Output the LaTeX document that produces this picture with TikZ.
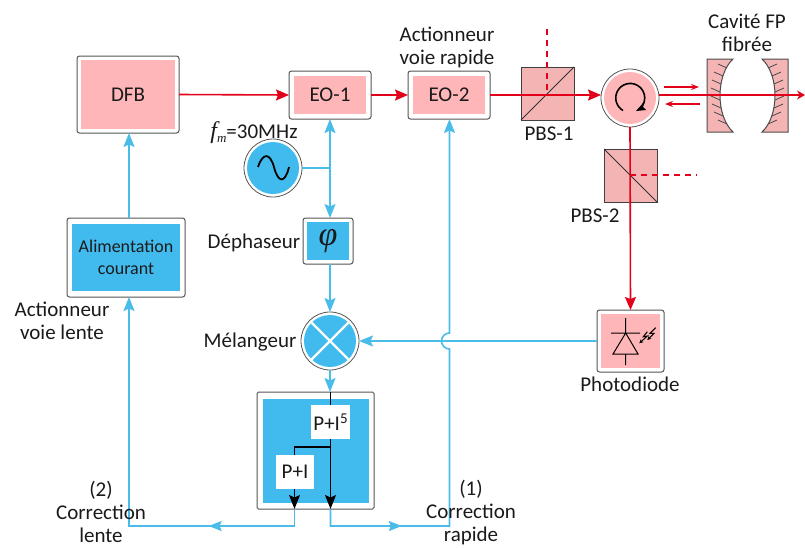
\documentclass[tikz,border=0pt]{standalone}
\usepackage{fontspec}
\setmainfont{Carlito}
\newfontfamily\timesit[ItalicFont=Liberation Serif Italic]{Liberation Serif}
\usetikzlibrary{arrows.meta,decorations.markings,calc}
\definecolor{pinkf}{HTML}{FFB6B9}
\definecolor{pbsf}{HTML}{F4B4B4}
\definecolor{bluef}{HTML}{41BBEE}
\definecolor{bluel}{HTML}{4ABCE8}
\definecolor{redl}{HTML}{E2001A}
\definecolor{frame}{HTML}{555555}
\definecolor{txt}{HTML}{1A1A1A}
\tikzset{
 x=1pt,y=-1pt,
 every node/.style={inner sep=0pt,outer sep=0pt,text=txt,font=\fontsize{21}{23}\selectfont,align=center},
 framebox/.style={draw=frame,line width=1pt,fill=white,rounded corners=2.5pt,minimum width=#1},
 fillp/.style={fill=pinkf,minimum width=#1},
 fillb/.style={fill=bluef,minimum width=#1},
 pbs/.style={draw=black!75,line width=1pt,fill=pbsf,minimum width=53pt,minimum height=53pt},
 ring/.style={circle,draw=frame,line width=0.8pt,fill=white,minimum size=58pt},
 pi/.style={fill=white,draw=none},
 redw/.style={redl,line width=1.6pt},
 bluew/.style={bluel,line width=1.6pt},
 rtip/.style={-{Stealth[length=13pt,width=11pt,inset=2pt]}},
 btip/.style={-{Stealth[length=14pt,width=11pt,inset=2.5pt]}},
 ktip/.style={-{Stealth[length=14pt,width=11pt,inset=2.5pt]}},
 mirror/.style={draw=black!70,line width=1pt,fill=pbsf},
 hatch/.style={black!70,line width=0.8pt},
 midb/.style={postaction={decorate},decoration={markings,mark=at position #1 with {\arrow{Stealth[length=13pt,width=10pt,inset=2pt]}}}},
}
\begin{document}
\begin{tikzpicture}
\useasboundingbox (0,0) rectangle (805,547);
% boxes
\node[framebox=102pt,minimum height=77pt] (dfbo) at (128,94.5) {};
\node[fillp=94pt,minimum height=69pt] (dfb) at (dfbo) {DFB};
\node[framebox=118pt,minimum height=79pt] (alimo) at (126,257.5) {};
\node[fillb=108pt,minimum height=67pt,font=\fontsize{18}{22}\selectfont] (alim) at (alimo) {Alimentation\\courant};
\node[framebox=82pt,minimum height=48pt] (eo1o) at (330,95) {};
\node[fillp=72pt,minimum height=38pt] (eo1) at (eo1o) {EO-1};
\node[framebox=82pt,minimum height=48pt] (eo2o) at (449,95) {};
\node[fillp=72pt,minimum height=38pt] (eo2) at (eo2o) {EO-2};
\node[pbs] (pbs1) at (547.5,93.5) {};
\node[pbs] (pbs2) at (630.5,175.5) {};
\node[ring] (circ) at (630,98) {};
\node[circle,fill=pinkf,minimum size=52pt] (circi) at (circ) {};
\node[ring] (sine) at (273,168) {};
\node[circle,fill=bluef,minimum size=52pt] (sinei) at (sine) {};
\node[framebox=50pt,minimum height=46pt] (phio) at (328,241) {};
\node[fillb=42pt,minimum height=38pt] (phi) at (phio) {};
\node[ring] (mix) at (330,341) {};
\node[circle,fill=bluef,minimum size=52pt] (mixi) at (mix) {};
\draw[white,line width=2.2pt] ($(mix)+(-18.5,-18.5)$) -- ($(mix)+(18.5,18.5)$) ($(mix)+(-18.5,18.5)$) -- ($(mix)+(18.5,-18.5)$);
\node[framebox=117pt,minimum height=117pt,rounded corners=1.5pt] (pido) at (315.5,450.5) {};
\node[fillb=106pt,minimum height=104pt] (pidi) at (pido) {};
\node[pi,minimum width=39pt,minimum height=34pt] (pi5) at (330.5,422) {P+I\raisebox{7pt}{\fontsize{15}{15}\selectfont 5}};
\node[pi,minimum width=38pt,minimum height=34pt] (pi1) at (295,472) {P+I};
\node[framebox=67pt,minimum height=62pt] (pdo) at (630.5,341) {};
\node[fillp=59pt,minimum height=54pt] (pd) at (pdo) {};
% PBS diagonals
\draw[black!80,line width=1pt] (pbs1.south west) -- (pbs1.north east);
\draw[black!80,line width=1pt] (pbs2.north west) -- (pbs2.south east);
% mirrors
\path[mirror] (707,59) -- (733,59) .. controls (715.7,75) and (715.7,116) .. (733,132) -- (707,132) -- cycle;
\path[mirror] (788,59) -- (762,59) .. controls (779.3,75) and (779.3,116) .. (762,132) -- (788,132) -- cycle;
\foreach \a/\b in {68/727,76/723,84/721,92/720,100/720,108/721,116/723,124/727}{
  \draw[hatch] (\b,\a) -- ++(-9,-4);
  \pgfmathsetmacro\bb{1495-\b}
  \draw[hatch] (\bb,\a) -- ++(9,-4);
}
% red beams
\coordinate (beamend) at (805,95);
\coordinate (d1) at (547,29);
\coordinate (d2) at (697,175);
\coordinate (cen1) at (547,94);
\coordinate (cen2) at (630,175);
\draw[redw,rtip] (dfbo.east) -- (eo1o.west);
\draw[redw,rtip] (eo1o.east) -- (eo2o.west);
\draw[redw,rtip] (eo2o.east) -- (circ.west |- eo2o.east);
\draw[redl,line width=1.2pt,dash pattern=on 6pt off 5pt] (d1) -- (cen1);
\draw[redl,line width=1.2pt,dash pattern=on 6pt off 5pt] (cen2) -- (d2);
\draw[redw,-{Stealth[length=8pt,width=9pt]}] (659,95) -- (beamend);
\draw[redw,rtip] (circ.south) -- (pdo.north);
\draw[redl,line width=1.1pt,-{Stealth[length=8pt,width=6pt]}] (664,87) -- (699,87);
\draw[redl,line width=1.1pt,-{Stealth[length=8pt,width=6pt]}] (700,104) -- (665,104);
% blue connectors
\coordinate (j1) at (330,168);
\coordinate (jp) at (294.5,509);
\coordinate (jd) at (330.5,509);
\draw[bluew,btip] (j1) -- (eo1o.south);
\draw[bluew,btip] (j1) -- (330,218);
\draw[bluew] (sine.east) -- (j1);
\draw[bluew,btip] (330,264) -- (mix.north);
\draw[bluew,btip] (mix.south) -- (330,392);
\draw[bluew,btip] (pdo.west) -- (mix.east);
\draw[bluew,btip] (129,218) -- (129,133);
\draw[bluew,midb=0.25,btip] (jp) -- (294.5,526) -- (129,526) -- (129,297);
\draw[bluew,midb=0.16,btip] (jd) -- (330.5,526) -- (449.5,526) -- (449.5,349) arc[start angle=90,end angle=270,radius=8] -- (449.5,119);
% black inside PI
\draw[black,line width=1.5pt] (330.5,392) -- (pi5.north -| 330.5,0);
\draw[black,line width=1.5pt,ktip] (330.5,439) -- (330.5,509);
\draw[black,line width=1.5pt,ktip] (294.5,489) -- (294.5,509);
\draw[black,line width=1.5pt] (330.5,447) -- (294.5,447) -- (294.5,455);
% symbols
\draw[black,line width=1.6pt] ($(circ)+(-7,12.5)$) arc[start angle=120,end angle=395,radius=14.5];
\fill[black] (644,102) -- (636,111) -- (646,110) -- (643,107) -- cycle;
\draw[black,line width=1.8pt] (258,167) .. controls (263,152) and (270,153) .. (274,167) .. controls (278,183) and (285,184) .. (289,167);
\node[font=\timesit\itshape\fontsize{34}{34}\selectfont] (phis) at (phi) {φ};
% photodiode symbol
\draw[black,line width=1pt] (625.7,318) -- (625.7,333) (611,333) -- (640,333) (625.7,333) -- (613,354) -- (638,354) -- cycle (625.7,354) -- (625.7,365);
\draw[black,line width=1pt,-{Stealth[length=4pt,width=4pt]}] (647.3,331.7) -- (643.3,336.7) -- (647.3,336) -- (639.3,343.3);
\draw[black,line width=1pt,-{Stealth[length=4pt,width=4pt]}] (655.7,327.7) -- (650,333.3) -- (654,333.3) -- (647.3,340);
% labels
\node[anchor=center] (tfm) at (254,133) {\timesit\itshape\fontsize{24}{24}\selectfont f\raisebox{-4pt}{\fontsize{13}{13}\selectfont m}\normalfont\fontsize{21}{23}\selectfont\setmainfont{Carlito}\rmfamily =30MHz};
\node (teo) at (447,47) {Actionneur\\voie rapide};
\node (tcav) at (747,33) {Cavité FP\\fibrée};
\node (tp1) at (549,134) {PBS-1};
\node (tp2) at (595,216) {PBS-2};
\node (tdep) at (254,243) {Déphaseur};
\node (tmel) at (250,342) {Mélangeur};
\node (tpd) at (630,384) {Photodiode};
\node (tal) at (62,321) {Actionneur\\voie lente};
\node (tc2) at (101,512) {(2)\\Correction\\lente};
\node (tc1) at (471,512) {(1)\\Correction\\rapide};
\end{tikzpicture}
\end{document}
